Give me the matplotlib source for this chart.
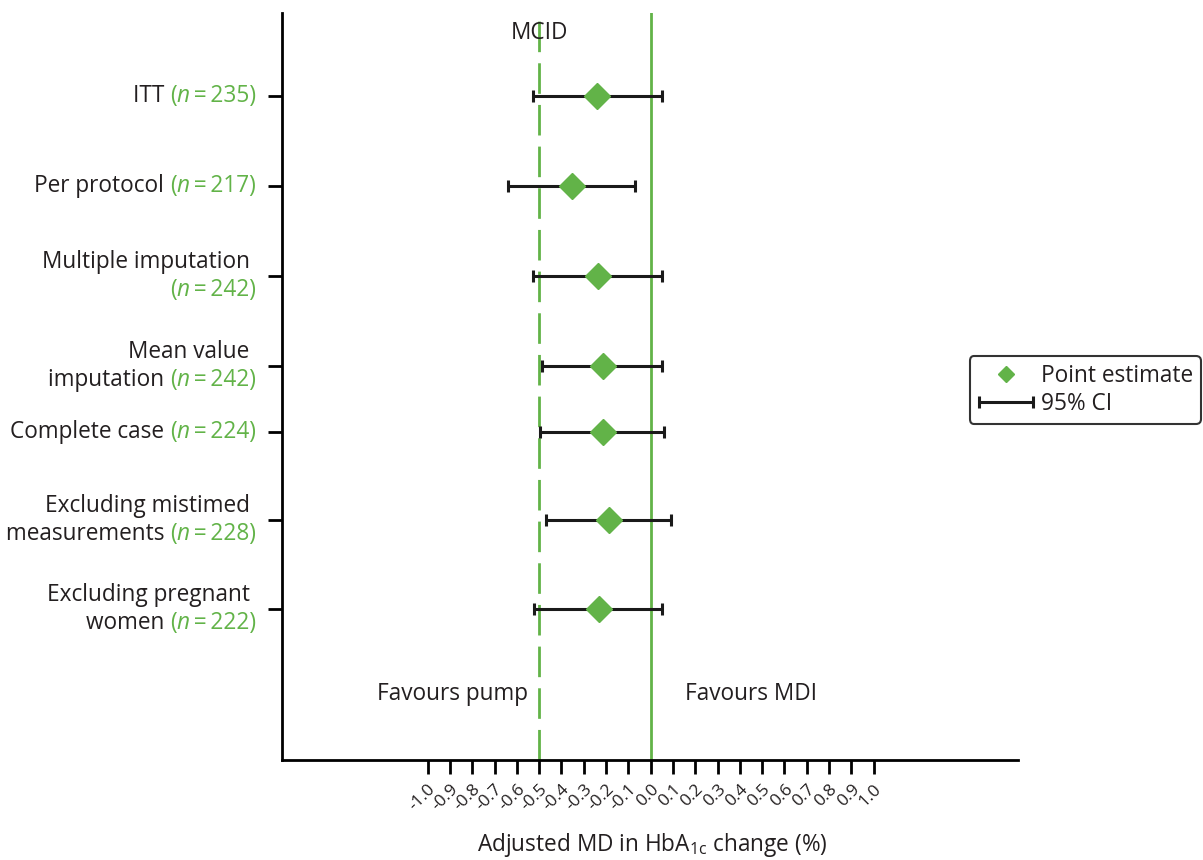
import matplotlib
matplotlib.use('Agg')
import matplotlib.pyplot as plt
import matplotlib.transforms as mtransforms
from matplotlib.lines import Line2D
from matplotlib.legend_handler import HandlerErrorbar
from matplotlib.offsetbox import TextArea, HPacker, VPacker, AnnotationBbox

plt.rcParams['font.family'] = ['Open Sans', 'DejaVu Sans']
plt.rcParams['mathtext.fontset'] = 'custom'
plt.rcParams['mathtext.rm'] = 'Open Sans'

# ---------------- data ----------------
label_lines = [["ITT"],
               ["Per protocol"],
               ["Multiple imputation ", ""],
               ["Mean value ", "imputation"],
               ["Complete case"],
               ["Excluding mistimed ", "measurements"],
               ["Excluding pregnant ", "women"]]
n_values = [235, 217, 242, 242, 224, 228, 222]
estimates = [-0.24, -0.353, -0.235, -0.214, -0.214, -0.188, -0.23]
ci_low = [-0.527, -0.640, -0.527, -0.489, -0.496, -0.470, -0.522]
ci_high = [0.049, -0.070, 0.049, 0.049, 0.061, 0.090, 0.049]
mcid = -0.5
xtick_values = [-1.0, -0.9, -0.8, -0.7, -0.6, -0.5, -0.4, -0.3, -0.2, -0.1, 0.0,
                0.1, 0.2, 0.3, 0.4, 0.5, 0.6, 0.7, 0.8, 0.9, 1.0]
xtick_labels = ["-1.0", "-0.9", "-0.8", "-0.7", "-0.6", "-0.5", "-0.4", "-0.3", "-0.2", "-0.1", "0.0",
                "0.1", "0.2", "0.3", "0.4", "0.5", "0.6", "0.7", "0.8", "0.9", "1.0"]

# ---------------- layout ----------------
row_pos = [96, 186, 276, 366, 432, 520, 609]
GREEN = '#62B348'
TXT = '#231F20'
FS = 16.3

W, H = 1203, 860
fig = plt.figure(figsize=(W / 100, H / 100), dpi=100)
ax = fig.add_axes([282 / W, 1 - 760 / H, (1018 - 282) / W, (760 - 13) / H])
ax.set_xlim(-1.653, 1.647)
ax.set_ylim(760, 13)

for s in ['top', 'right']:
    ax.spines[s].set_visible(False)
for s in ['left', 'bottom']:
    ax.spines[s].set_linewidth(2)
    ax.spines[s].set_color('black')

ax.axvline(mcid, color=GREEN, lw=2, dashes=(11, 4), zorder=1)
ax.axvline(0, color=GREEN, lw=2, zorder=1)

err = ax.errorbar(estimates, row_pos,
                  xerr=[[e - l for e, l in zip(estimates, ci_low)],
                        [h - e for e, h in zip(estimates, ci_high)]],
                  fmt='none', ecolor='#1a1a1a', elinewidth=2.2, capsize=4.3,
                  capthick=2.2, zorder=2)
ax.plot(estimates, row_pos, 'D', ms=13, color=GREEN, mec=GREEN, lw=0, zorder=3)

ax.set_xticks(xtick_values)
ax.set_xticklabels(xtick_labels, rotation=45, ha='right', va='top',
                   rotation_mode='anchor', fontsize=12.5, color=TXT)
shift = mtransforms.ScaledTranslation(-5 / 100, 0, fig.dpi_scale_trans)
for lab in ax.get_xticklabels():
    lab.set_transform(lab.get_transform() + shift)
ax.tick_params(axis='x', length=10, width=2, pad=5)
ax.set_yticks(row_pos)
ax.set_yticklabels([])
ax.tick_params(axis='y', length=10, width=2)

# y labels: black text with green (n = ...)
for lines, n, y in zip(label_lines, n_values, row_pos):
    packed_lines = []
    for i, txt in enumerate(lines):
        parts = []
        if txt:
            parts.append(TextArea(txt + (" " if i == len(lines) - 1 else ""),
                                  textprops=dict(color=TXT, fontsize=FS)))
        if i == len(lines) - 1:
            parts.append(TextArea("(", textprops=dict(color=GREEN, fontsize=FS)))
            parts.append(TextArea("n", textprops=dict(color=GREEN, fontsize=FS, fontstyle='italic')))
            parts.append(TextArea("\u2009=\u2009%d)" % n, textprops=dict(color=GREEN, fontsize=FS)))
        packed_lines.append(HPacker(children=parts, align='baseline', pad=0, sep=0))
    box = VPacker(children=packed_lines, align='right', pad=0, sep=2.5)
    ab = AnnotationBbox(box, (0, y), xycoords=ax.get_yaxis_transform(),
                        xybox=(-19, 0), boxcoords='offset points',
                        box_alignment=(1, 0.5), frameon=False, pad=0,
                        annotation_clip=False)
    ax.add_artist(ab)

ax.text(mcid, 33, "MCID", ha='center', va='center', fontsize=FS, color=TXT)
ax.text(-0.89, 694, "Favours pump", ha='center', va='center', fontsize=FS, color=TXT)
ax.text(0.45, 694, "Favours MDI", ha='center', va='center', fontsize=FS, color=TXT)

fig.text(652 / W, 1 - 845 / H, r'Adjusted MD in HbA$_{\mathregular{1c}}$ change (%)',
         ha='center', va='center', fontsize=FS, color=TXT)

proxy = Line2D([], [], marker='D', ms=8, ls='none', color=GREEN, mec=GREEN)
leg = fig.legend([proxy, err], ['Point estimate', '95% CI'], loc='center right',
                 bbox_to_anchor=(1201 / W, 1 - 390 / H), fontsize=FS,
                 handlelength=2.5, handletextpad=0.3, borderaxespad=0,
                 handler_map={err: HandlerErrorbar(xerr_size=1.2)},
                 frameon=True, fancybox=True, labelspacing=0.15, borderpad=0.35)
leg.get_frame().set_edgecolor('black')
leg.get_frame().set_linewidth(1.5)
for t in leg.get_texts():
    t.set_color(TXT)

fig.savefig('out.png', dpi=100)
